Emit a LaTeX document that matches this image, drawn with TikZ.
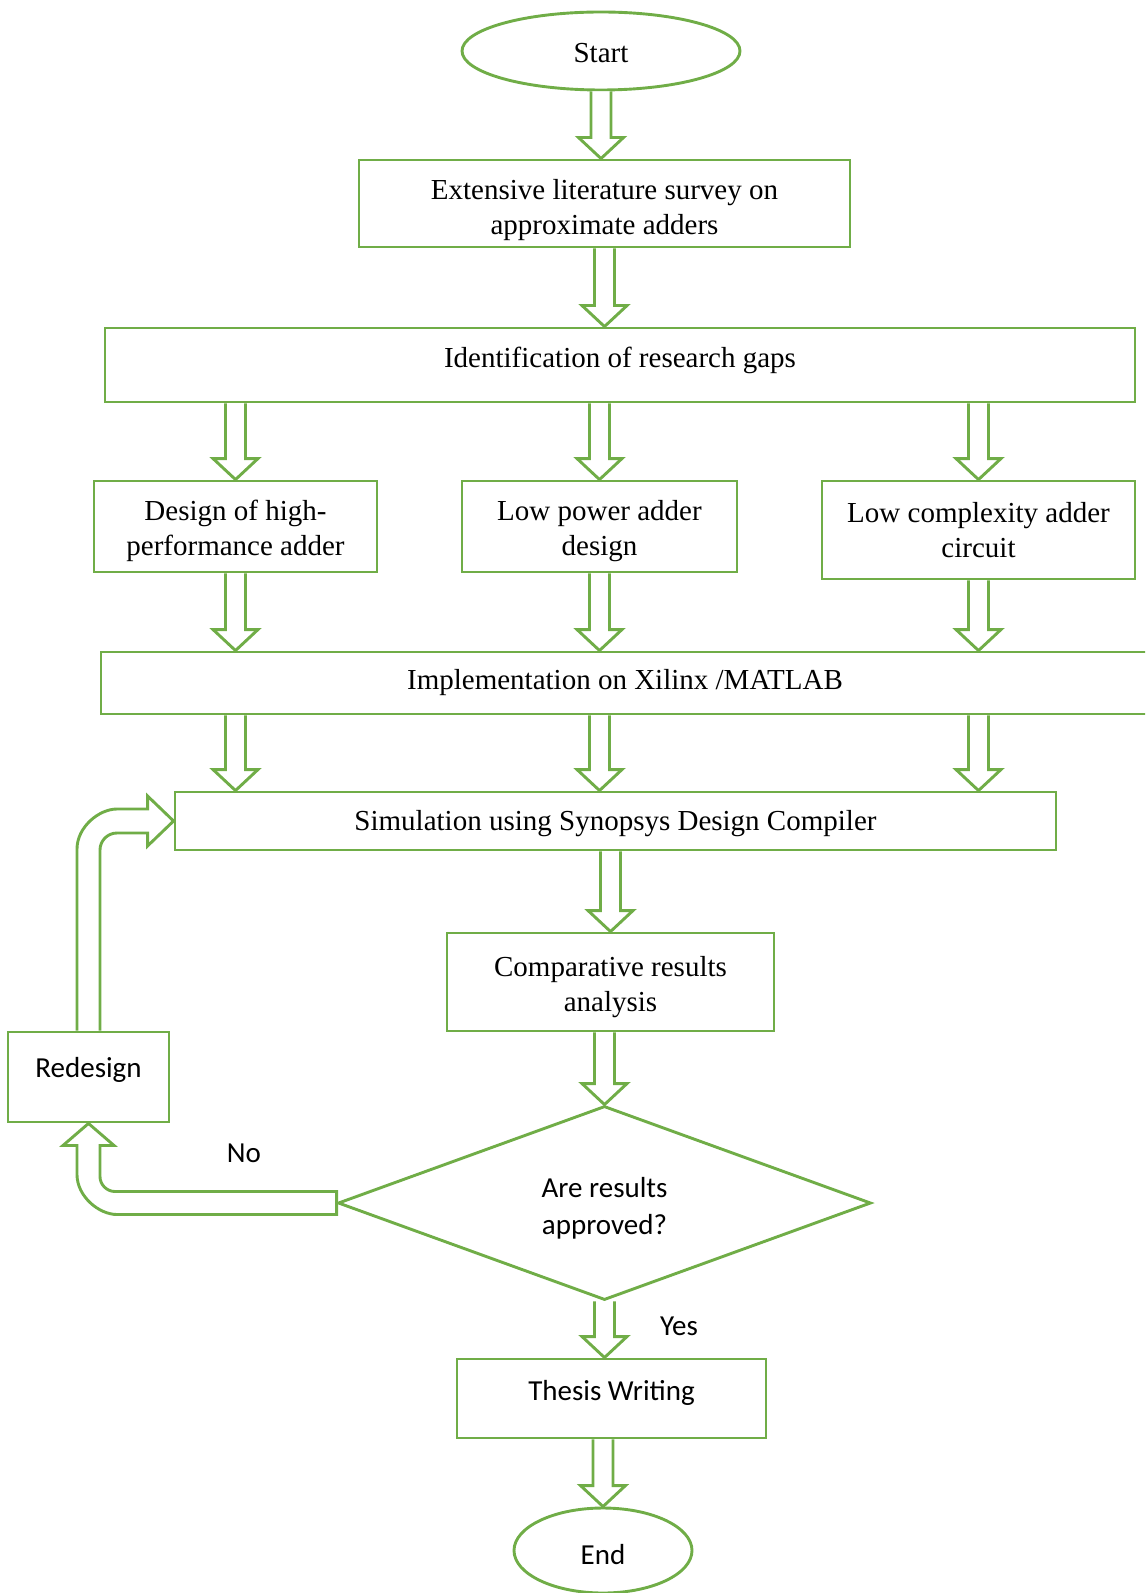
\documentclass[tikz,border=0pt]{standalone}
\usepackage{fontspec}
\setmainfont{Liberation Serif}
\newfontfamily\calibri{Carlito}
\usepackage{xcolor}
\usepackage{tikz}
\usetikzlibrary{calc, shapes.geometric}

\definecolor{officegreen}{RGB}{112,173,71}

% hollow block arrow, straight down from #1 to the level of #2
\newcommand{\blockdown}[2]{%
  \draw[blockline] let \p1=(#1), \p2=(#2) in
    (\x1-5pt,\y1) -- (\x1-5pt,\y2+10.5pt) -- (\x1-11.25pt,\y2+10.5pt) -- (\x1,\y2)
    -- (\x1+11.25pt,\y2+10.5pt) -- (\x1+5pt,\y2+10.5pt) -- (\x1+5pt,\y1);
}
% strut that pushes the first text line down
\newcommand{\padtop}[1]{\rule{0pt}{#1}}

\begin{document}
\begin{tikzpicture}[
    x=0.5pt, y=-0.5pt,
    line width=1.45pt,
    font=\fontsize{14.5}{17.5}\selectfont,
    box/.style={draw=officegreen, rectangle, align=center, inner sep=0pt},
    term/.style={draw=officegreen, ellipse, inner sep=0pt},
    sans/.style={font=\calibri\fontsize{14.5}{18.5}\selectfont},
    blockline/.style={draw=officegreen, fill=white, line join=miter}
]

\useasboundingbox (0,0) rectangle (1145,1593);
\clip (0,0) rectangle (1145,1593);

% Start and survey
\node[term, minimum width=139pt, minimum height=39pt] (start) at (601,51) {\padtop{12pt}Start};
\node[box, minimum width=245.5pt, minimum height=43.5pt] (survey) at (604.5,203.5)
    {\padtop{17pt}Extensive literature survey on\\approximate adders};

% Research gaps
\node[box, text depth=8pt, minimum width=515pt, minimum height=37pt] (gaps) at (620,365)
    {Identification of research gaps};

% Three design branches
\node[box, minimum width=141.5pt, minimum height=45.5pt] (high) at (235.5,526.5)
    {\padtop{15pt}Design of high-\\performance adder};
\node[box, minimum width=137.5pt, minimum height=45.5pt] (lowpow) at (599.5,526.5)
    {\padtop{15pt}Low power adder\\design};
\node[box, minimum width=156.5pt, minimum height=49pt] (lowcx) at (978.5,530)
    {Low complexity adder\\circuit};

% Implementation and simulation
\node[box, minimum width=524pt, minimum height=31pt] (impl) at (625,683)
    {Implementation on Xilinx /MATLAB};
\node[box, minimum width=440.5pt, minimum height=29pt] (sim) at (615.5,821)
    {\padtop{13pt}Simulation using Synopsys Design Compiler};

% Analysis and decision
\node[box, minimum width=163.5pt, minimum height=49pt] (comp) at (610.5,982)
    {\padtop{15pt}Comparative results\\analysis};
\node[draw=officegreen, diamond, aspect=2.75, minimum width=266.5pt, minimum height=97pt,
      inner sep=0pt, align=center, sans] (dec) at (604.5,1203) {\padtop{15pt}Are results\\approved?};

% Outcomes
\node[box, sans, text depth=8pt, minimum width=154.5pt, minimum height=39.5pt] (thesis)
    at (611.5,1398.5) {Thesis Writing};
\node[term, sans, minimum width=89pt, minimum height=42.5pt] (end) at (603,1550.5)
    {\padtop{14.5pt}End};
\node[box, sans, text depth=10pt, minimum width=80.5pt, minimum height=45pt] (redesign)
    at (88.5,1077) {Redesign};

% Labels
\node[sans] (lblno) at (244,1153) {No};
\node[sans] (lblyes) at (679,1326) {Yes};

% Straight block arrows
\blockdown{start.south}{survey.north}
\blockdown{survey.south}{gaps.north}
\blockdown{high.north |- gaps.south}{high.north}
\blockdown{lowpow.north |- gaps.south}{lowpow.north}
\blockdown{lowcx.north |- gaps.south}{lowcx.north}
\blockdown{high.south}{impl.north}
\blockdown{lowpow.south}{impl.north}
\blockdown{lowcx.south}{impl.north}
\blockdown{high.south |- impl.south}{sim.north}
\blockdown{lowpow.south |- impl.south}{sim.north}
\blockdown{lowcx.south |- impl.south}{sim.north}
\blockdown{comp.north |- sim.south}{comp.north}
\blockdown{dec.north |- comp.south}{dec.north}
\blockdown{dec.south}{thesis.north}
\blockdown{end.north |- thesis.south}{end.north}

% Redesign loop back to simulation
\draw[blockline] let \p1=(redesign.north), \p2=(sim.west) in
    (\x1-5.75pt,\y1) -- (\x1-5.75pt,\y2-14pt)
    .. controls (\x1-5.75pt,\y2-3pt) and (\x1+5.25pt,\y2+6pt) .. (\x1+14.25pt,\y2+6pt)
    -- (\x2-13pt,\y2+6pt) -- (\x2-13pt,\y2+12.5pt) -- (\x2,\y2)
    -- (\x2-13pt,\y2-12.5pt) -- (\x2-13pt,\y2-6pt) -- (\x1+14.25pt,\y2-6pt)
    .. controls (\x1+9.55pt,\y2-6pt) and (\x1+5.75pt,\y2-9.8pt) .. (\x1+5.75pt,\y2-14.5pt)
    -- (\x1+5.75pt,\y1);

% No branch to redesign
\draw[blockline] let \p1=(dec.west), \p2=(redesign.south) in
    (\x1,\y1+5.75pt) -- (\x2+13.25pt,\y1+5.75pt)
    .. controls (\x2+9.15pt,\y1+5.75pt) and (\x2+5.75pt,\y1+9.15pt) .. (\x2+5.75pt,\y1+13.25pt)
    -- (\x2+5.75pt,\y2-11pt) -- (\x2+12.75pt,\y2-11pt) -- (\x2,\y2)
    -- (\x2-12.75pt,\y2-11pt) -- (\x2-5.75pt,\y2-11pt) -- (\x2-5.75pt,\y1+14.25pt)
    .. controls (\x2-5.75pt,\y1+3.25pt) and (\x2+5.25pt,\y1-5.75pt) .. (\x2+14.25pt,\y1-5.75pt)
    -- (\x1,\y1-5.75pt) -- cycle;

\end{tikzpicture}
\end{document}
